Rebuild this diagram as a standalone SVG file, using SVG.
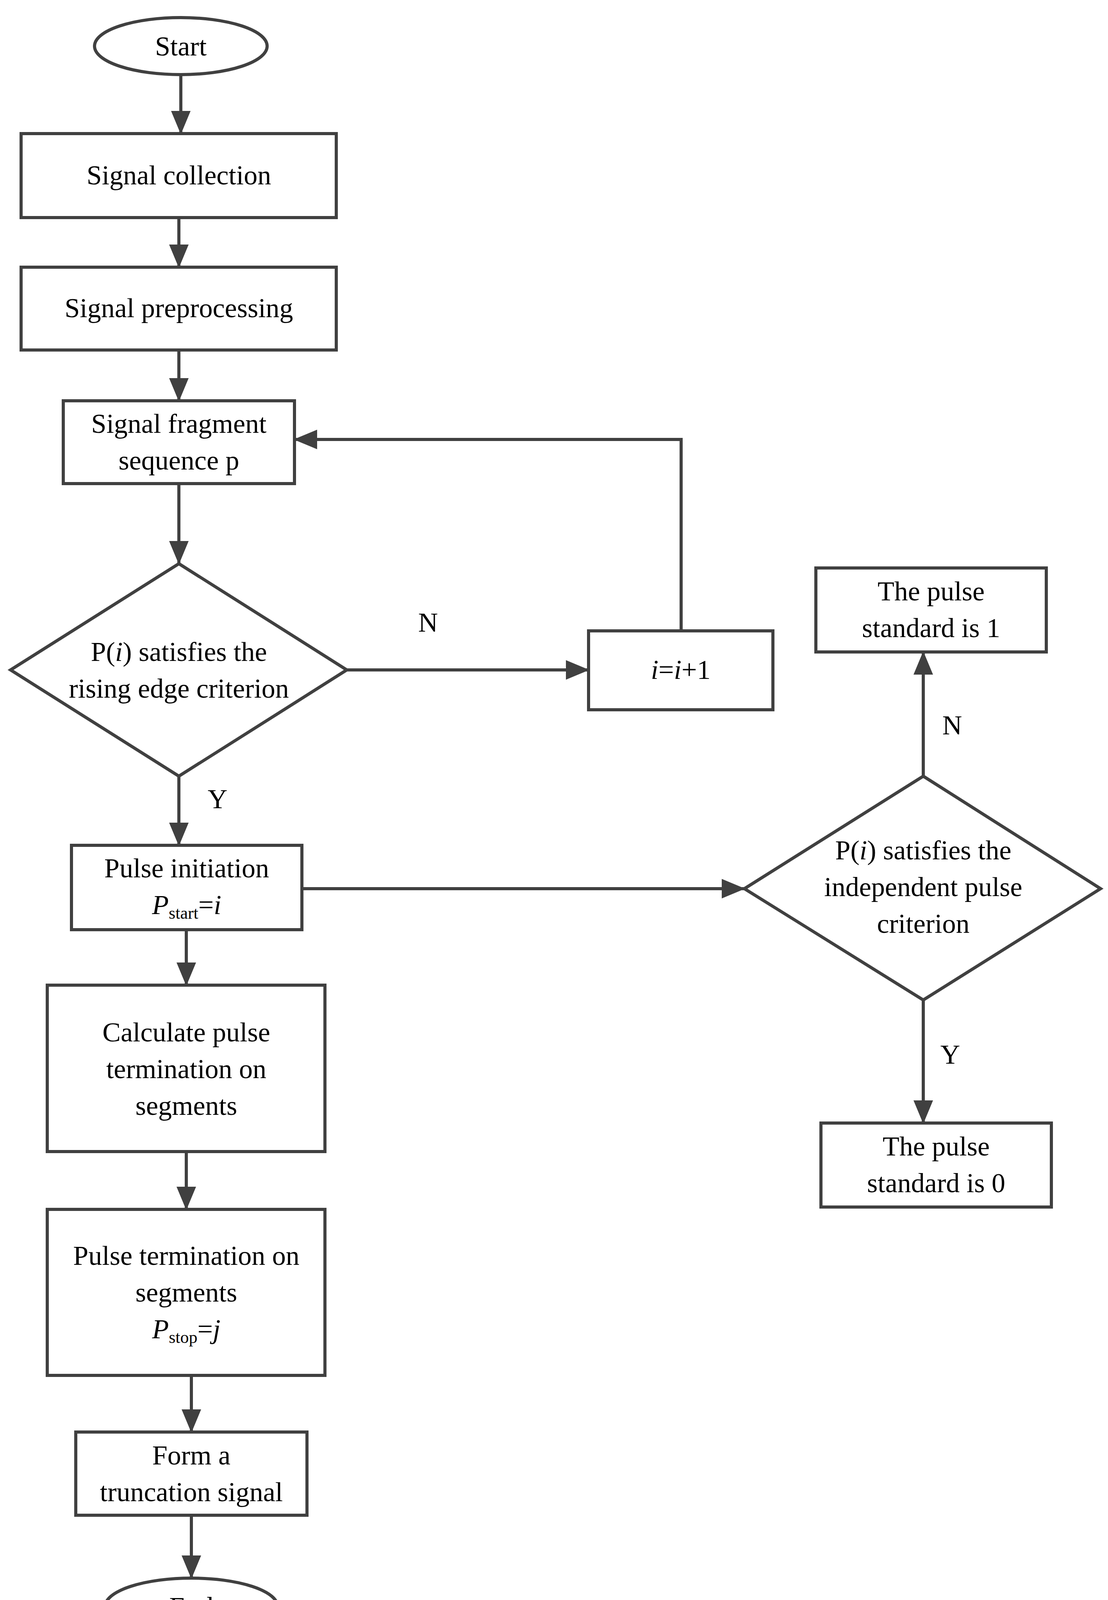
<svg xmlns="http://www.w3.org/2000/svg" width="2837" height="4201" viewBox="0 0 2837 4201">
<style>
.s{fill:#fff;stroke:#404040;stroke-width:8}
.c{fill:none;stroke:#404040;stroke-width:8}
text{font-family:"Liberation Serif","Times New Roman",serif;font-size:70px;fill:#000;text-anchor:middle}
.i{font-style:italic}
</style>
<defs>
<marker id="a" markerUnits="userSpaceOnUse" markerWidth="60" markerHeight="50" refX="58" refY="25" orient="auto">
<path d="M0,0 L60,25 L0,50 Z" fill="#404040"/>
</marker>
</defs>
<rect width="2837" height="4201" fill="#fff"/>
<g id="connectors">
<line class="c" x1="463" y1="191" x2="463" y2="342" marker-end="url(#a)"/>
<line class="c" x1="458" y1="557" x2="458" y2="684" marker-end="url(#a)"/>
<line class="c" x1="458" y1="896" x2="458" y2="1026" marker-end="url(#a)"/>
<line class="c" x1="458" y1="1238" x2="458" y2="1443" marker-end="url(#a)"/>
<line class="c" x1="888" y1="1715" x2="1507" y2="1715" marker-end="url(#a)"/>
<polyline class="c" points="1744,1615 1744,1125 754,1125" marker-end="url(#a)"/>
<line class="c" x1="458" y1="1987" x2="458" y2="2164" marker-end="url(#a)"/>
<line class="c" x1="773" y1="2275" x2="1906" y2="2275" marker-end="url(#a)"/>
<line class="c" x1="2364" y1="1987" x2="2364" y2="1669" marker-end="url(#a)"/>
<line class="c" x1="2364" y1="2560" x2="2364" y2="2875" marker-end="url(#a)"/>
<line class="c" x1="477" y1="2380" x2="477" y2="2522" marker-end="url(#a)"/>
<line class="c" x1="477" y1="2948" x2="477" y2="3096" marker-end="url(#a)"/>
<line class="c" x1="490" y1="3521" x2="490" y2="3666" marker-end="url(#a)"/>
<line class="c" x1="490" y1="3879" x2="490" y2="4040" marker-end="url(#a)"/>
<text x="1096" y="1617">N</text>
<text x="557" y="2069">Y</text>
<text x="2438" y="1880">N</text>
<text x="2433" y="2723">Y</text>
</g>
<g id="start"><ellipse class="s" cx="463" cy="118" rx="221" ry="73"/><text x="463" y="142">Start</text></g>
<g id="collect"><rect class="s" x="54" y="342" width="807" height="215"/><text x="458" y="472">Signal collection</text></g>
<g id="prep"><rect class="s" x="54" y="684" width="807" height="212"/><text x="458" y="812">Signal preprocessing</text></g>
<g id="frag"><rect class="s" x="162" y="1026" width="592" height="212"/><text x="458" y="1108">Signal fragment</text><text x="458" y="1202">sequence p</text></g>
<g id="d1"><polygon class="s" points="458,1443 888,1715 458,1987 27,1715"/><text x="458" y="1692">P(<tspan class="i">i</tspan>) satisfies the</text><text x="458" y="1786">rising edge criterion</text></g>
<g id="inc"><rect class="s" x="1507" y="1615" width="472" height="202"/><text x="1743" y="1738"><tspan class="i">i</tspan>=<tspan class="i">i</tspan>+1</text></g>
<g id="p1"><rect class="s" x="2089" y="1454" width="590" height="215"/><text x="2384" y="1537">The pulse</text><text x="2384" y="1631">standard is 1</text></g>
<g id="init"><rect class="s" x="183" y="2164" width="590" height="216"/><text x="478" y="2246">Pulse initiation</text><text x="478" y="2340"><tspan class="i">P</tspan><tspan font-size="44" dy="12">start</tspan><tspan dy="-12">=</tspan><tspan class="i">i</tspan></text></g>
<g id="d2"><polygon class="s" points="2364,1987 2818,2275 2364,2560 1906,2275"/><text x="2364" y="2200">P(<tspan class="i">i</tspan>) satisfies the</text><text x="2364" y="2294">independent pulse</text><text x="2364" y="2388">criterion</text></g>
<g id="p0"><rect class="s" x="2102" y="2875" width="590" height="215"/><text x="2397" y="2958">The pulse</text><text x="2397" y="3052">standard is 0</text></g>
<g id="calc"><rect class="s" x="121" y="2522" width="711" height="426"/><text x="477" y="2666">Calculate pulse</text><text x="477" y="2760">termination on</text><text x="477" y="2854">segments</text></g>
<g id="term"><rect class="s" x="121" y="3096" width="711" height="425"/><text x="477" y="3238">Pulse termination on</text><text x="477" y="3332">segments</text><text x="477" y="3426"><tspan class="i">P</tspan><tspan font-size="44" dy="12">stop</tspan><tspan dy="-12">=</tspan><tspan class="i">j</tspan></text></g>
<g id="form"><rect class="s" x="194" y="3666" width="592" height="213"/><text x="490" y="3749">Form a</text><text x="490" y="3843">truncation signal</text></g>
<g id="end"><ellipse class="s" cx="490" cy="4113" rx="221" ry="73"/><text x="490" y="4137">End</text></g>
</svg>
